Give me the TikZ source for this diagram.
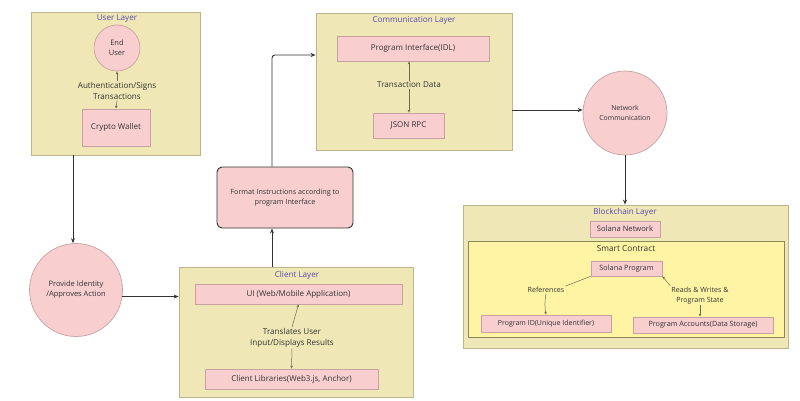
\documentclass[tikz,border=0pt]{standalone}
\usepackage{fontspec}
\setmainfont{Open Sans}
\usetikzlibrary{arrows.meta,calc}
\definecolor{layerfill}{HTML}{EFE7B5}
\definecolor{layerdraw}{HTML}{BDB48C}
\definecolor{smartfill}{HTML}{FFF4A3}
\definecolor{smartdraw}{HTML}{8C8758}
\definecolor{pinkfill}{HTML}{F8CECE}
\definecolor{pinkdraw}{HTML}{C8A2A2}
\definecolor{labpurple}{HTML}{5A48B0}
\definecolor{txt}{HTML}{333333}
\definecolor{smallarrow}{HTML}{6E6A50}
\tikzset{
  layer/.style={draw=layerdraw, fill=layerfill, line width=0.8pt, inner sep=0pt},
  smartbox/.style={draw=smartdraw, fill=smartfill, line width=0.7pt, inner sep=0pt},
  pinkbox/.style={draw=pinkdraw, fill=pinkfill, line width=0.7pt, inner sep=0pt, text=txt, font=\fontsize{8}{10}\selectfont, align=center},
  pinkcirc/.style={circle, draw=pinkdraw, fill=pinkfill, line width=0.7pt, inner sep=0pt, text=txt, font=\fontsize{7.5}{10}\selectfont, align=center},
  layerlabel/.style={text=labpurple, font=\fontsize{8.1}{10}\selectfont, inner sep=1pt},
  edgetext/.style={text=txt, font=\fontsize{8.1}{11}\selectfont, align=center, inner sep=1pt},
  smalltext/.style={text=txt, font=\fontsize{7.1}{10}\selectfont, align=center, inner sep=1pt},
  mainarrow/.style={draw=txt, line width=0.9pt, -{Stealth[length=5pt,width=4pt]}},
  sarrow/.style={draw=smallarrow, line width=0.5pt, -{Stealth[length=3pt,width=2.5pt]}},
}
\begin{document}
\begin{tikzpicture}[x=1pt,y=-1pt]
\useasboundingbox (0,0) rectangle (800,401);
% ---------- layers ----------
\node[layer, minimum width=169pt, minimum height=143pt] (user) at (115.5,83.5) {};
\node[layer, minimum width=196pt, minimum height=137pt] (comm) at (414,81.5) {};
\node[layer, minimum width=234pt, minimum height=130pt] (client) at (296,332) {};
\node[layer, minimum width=325pt, minimum height=143pt] (block) at (625.5,276.5) {};
\node[smartbox, minimum width=316pt, minimum height=96pt] (smart) at (626,289) {};
% ---------- user layer ----------
\node[layerlabel] (userlab) at (117,19) {User Layer};
\node[pinkcirc, minimum size=46pt] (eu) at (117,48) {End\\User};
\node[edgetext] (auth) at (117,90.5) {Authentication/Signs\\Transactions};
\node[pinkbox, minimum width=68pt, minimum height=37pt] (wallet) at (116,127.5) {Crypto Wallet};
\draw[sarrow] (auth.north) -- (eu.south);
\draw[sarrow] (auth.south) -- (wallet.north);
% ---------- provide identity ----------
\node[pinkcirc, minimum size=93pt] (pid) at (76,290) {Provide Identity\\/Approves Action};
\coordinate (ux) at (73,0);
\draw[mainarrow] (user.south -| ux) -- (pid.north -| ux);
% ---------- client layer ----------
\node[layerlabel] (clientlab) at (297,275) {Client Layer};
\node[pinkbox, minimum width=207pt, minimum height=20pt] (ui) at (298.5,294) {UI (Web/Mobile Application)};
\node[edgetext] (trans) at (292,338) {Translates User\\Input/Displays Results};
\node[pinkbox, minimum width=173pt, minimum height=20pt] (libs) at (291.5,379) {Client Libraries(Web3.js, Anchor)};
\draw[sarrow] (trans.north) -- (ui.south);
\draw[sarrow] (trans.south) -- (libs.north);
\draw[mainarrow] (pid.-8) -- (pid.-8 -| client.west);
% ---------- format instructions ----------
\node[draw=txt, fill=pinkfill, rounded corners=5pt, line width=0.9pt, minimum width=136pt, minimum height=61pt, inner sep=0pt, text=txt, font=\fontsize{7.2}{10.5}\selectfont, align=center] (fmt) at (285,197.5) {Format Instructions according to\\program Interface};
\coordinate (fx) at (272,0);
\coordinate (fy) at (0,55);
\draw[mainarrow] (client.north -| fx) -- (fmt.south -| fx);
\draw[mainarrow, rounded corners=3pt] (fmt.north -| fx) |- (comm.west |- fy);
% ---------- communication layer ----------
\node[layerlabel] (commlab) at (414,21) {Communication Layer};
\node[pinkbox, minimum width=152pt, minimum height=25pt] (idl) at (413,48.5) {Program Interface(IDL)};
\node[edgetext] (tdata) at (409,85) {Transaction Data};
\node[pinkbox, minimum width=71pt, minimum height=25pt] (rpc) at (408.5,125.5) {JSON RPC};
\draw[sarrow] (tdata.north) -- (tdata.north |- idl.south);
\draw[sarrow] (tdata.south) -- (tdata.south |- rpc.north);
% ---------- network ----------
\node[pinkcirc, minimum size=84pt, font=\fontsize{6.9}{9.5}\selectfont] (net) at (625,113) {Network\\Communication};
\coordinate (cy) at (0,110);
\draw[mainarrow] (comm.east |- cy) -- (net.west |- cy);
\draw[mainarrow] (net.south) -- (block.north -| net);
% ---------- blockchain layer ----------
\node[layerlabel] (blocklab) at (625,212.5) {Blockchain Layer};
\node[pinkbox, minimum width=70pt, minimum height=16pt, font=\fontsize{7.6}{9}\selectfont] (solnet) at (625,229) {Solana Network};
\node[text=txt, font=\fontsize{8.3}{9}\selectfont, inner sep=1pt] (smartlab) at (626,248.5) {Smart Contract};
\node[pinkbox, minimum width=71pt, minimum height=15pt, font=\fontsize{7.3}{8}\selectfont] (solprog) at (626.5,268.5) {Solana Program};
\node[pinkbox, minimum width=130pt, minimum height=17pt, font=\fontsize{7}{8}\selectfont] (pidbox) at (546,323.5) {Program ID(Unique Identifier)};
\node[pinkbox, minimum width=140pt, minimum height=16pt, font=\fontsize{7.2}{8}\selectfont] (pacc) at (703,325) {Program Accounts(Data Storage)};
\node[smalltext] (refs) at (546,290) {References};
\node[smalltext] (rw) at (700,295.5) {Reads \& Writes \&\\Program State};
\draw[draw=smallarrow, line width=0.5pt] (solprog.south west) -- (refs.north east);
\draw[sarrow] (refs.south) to[bend right=10] (pidbox.north -| refs.south);
\draw[sarrow] (rw.north west) -- (solprog.south east);
\draw[sarrow] (rw.south) -- (rw.south |- pacc.north);
\end{tikzpicture}
\end{document}
